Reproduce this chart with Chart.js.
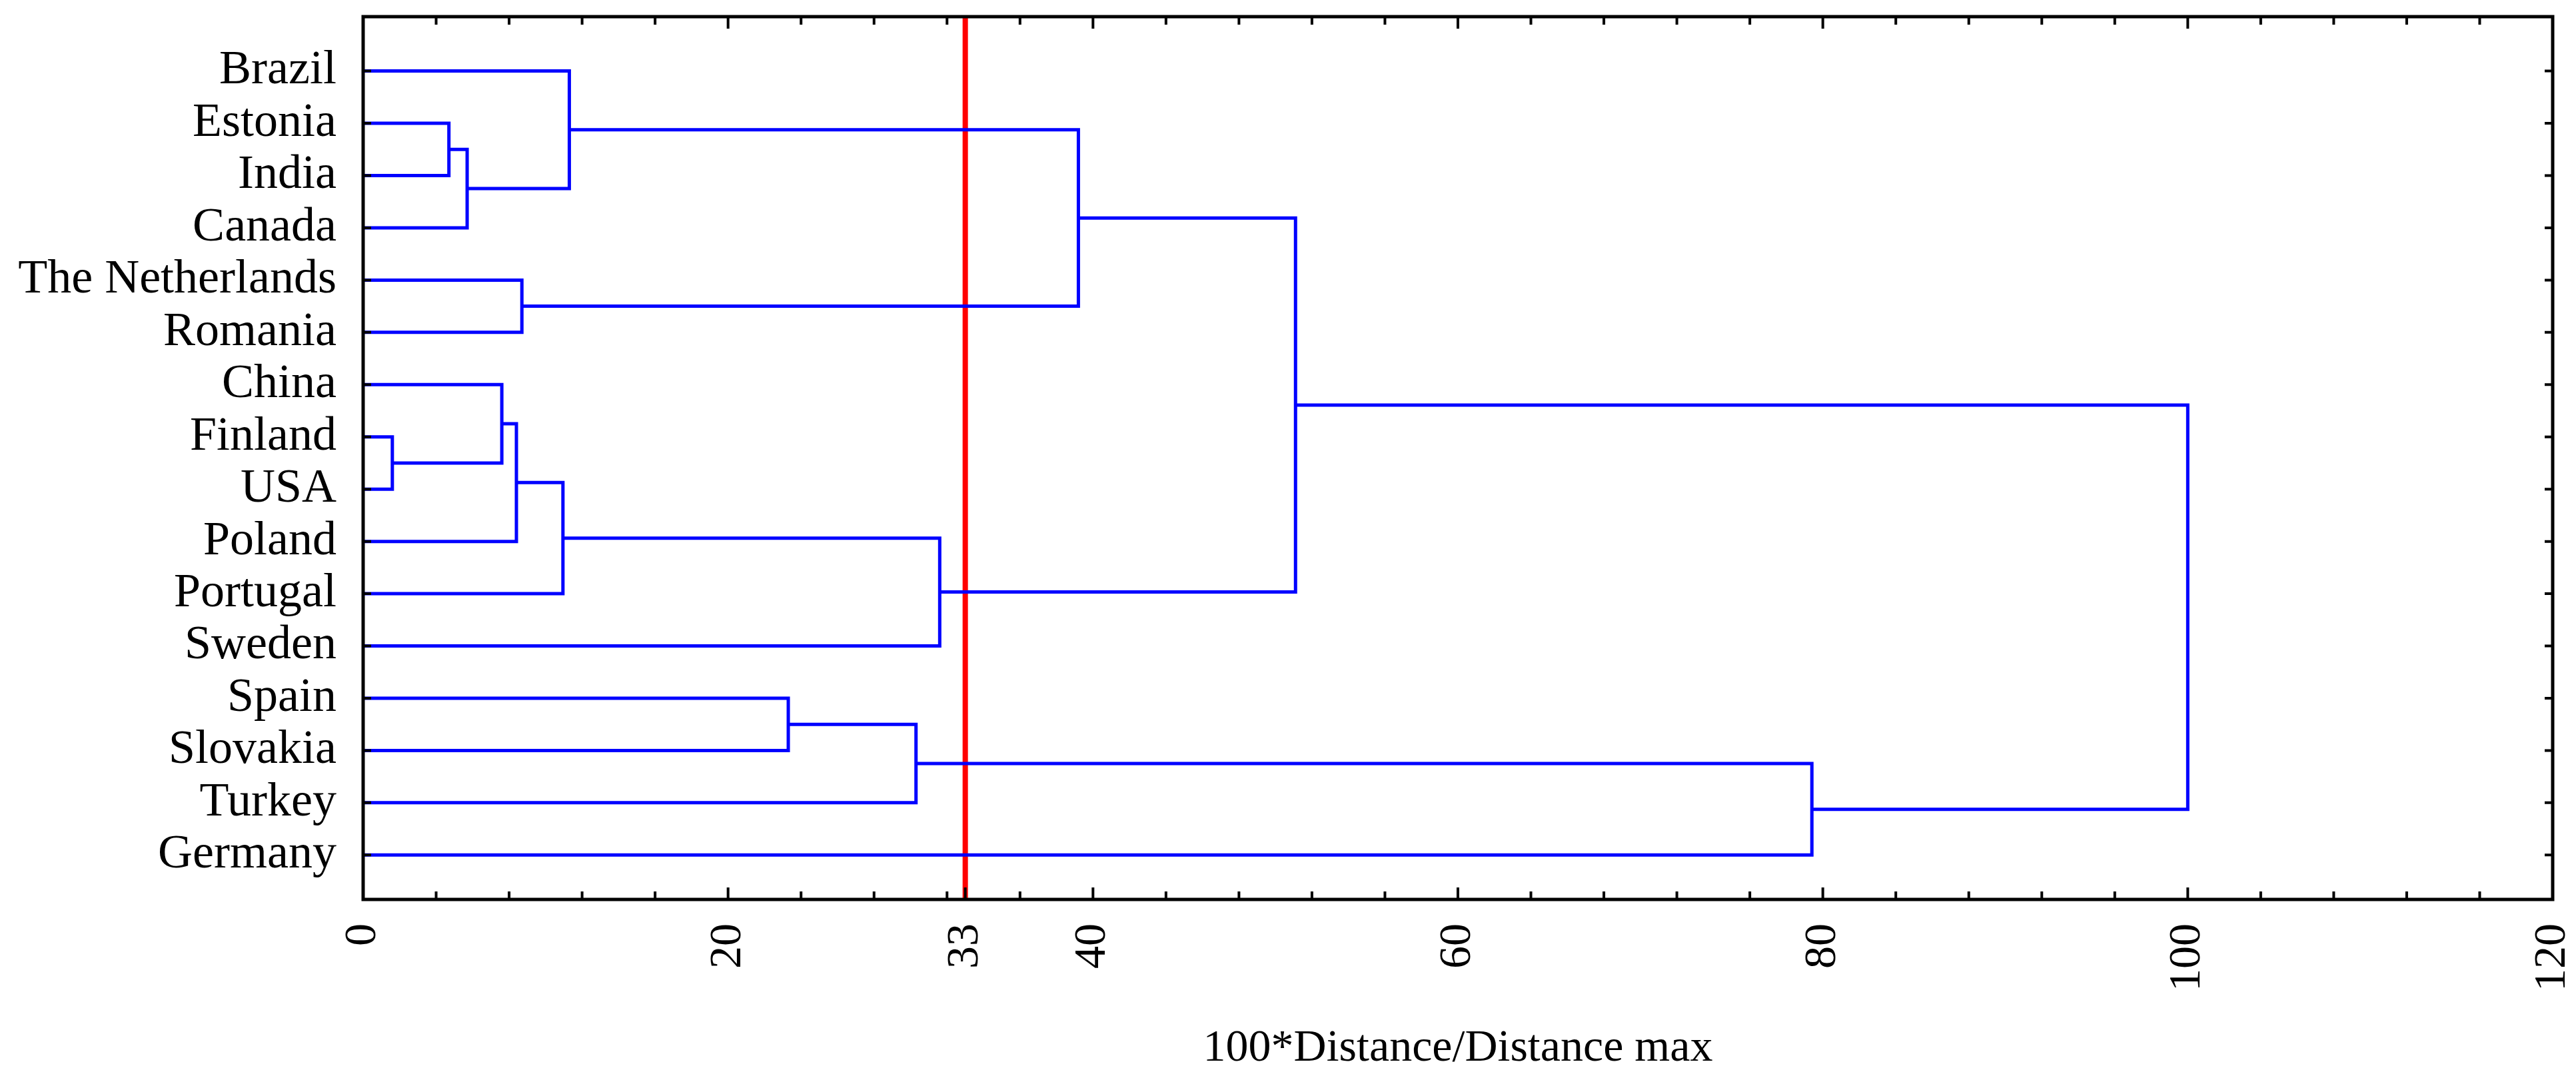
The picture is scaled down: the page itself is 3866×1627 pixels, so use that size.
<!DOCTYPE html>
<html><head><meta charset="utf-8">
<script src="https://cdn.jsdelivr.net/npm/chart.js@4"></script>
<style>html,body{margin:0;padding:0;background:#fff}#w{width:3866px;height:1627px}</style>
</head><body><div id="w"><canvas id="c"></canvas></div>
<script>
const countries = ["Brazil","Estonia","India","Canada","The Netherlands","Romania","China","Finland","USA","Poland","Portugal","Sweden","Spain","Slovakia","Turkey","Germany"];
// merges: [childA, childB] (indices: 0-15 leaves, 16+ previous merges), with heights
const mergeA = [1, 16, 0, 4, 18, 7, 6, 22, 23, 24, 20, 12, 27, 28, 26];
const mergeB = [2, 3, 17, 5, 19, 8, 21, 9, 10, 11, 25, 13, 14, 15, 29];
const mergeHeight = [4.7, 5.7, 11.3, 8.7, 39.2, 1.6, 7.6, 8.4, 10.95, 31.6, 51.1, 23.3, 30.3, 79.4, 100];
const xTickValues = [0, 20, 33, 40, 60, 80, 100, 120];
const cutLevel = 33;
const xTitle = "100*Distance/Distance max";

const nodeX = [], nodeY = [];
countries.forEach((c, i) => { nodeX.push(0); nodeY.push(i); });
const datasets = [];
mergeA.forEach((a, k) => {
  const b = mergeB[k], h = mergeHeight[k];
  datasets.push({
    data: [{x: nodeX[a], y: nodeY[a]}, {x: h, y: nodeY[a]}, {x: h, y: nodeY[b]}, {x: nodeX[b], y: nodeY[b]}],
    borderColor: '#0000ff', borderWidth: 5, pointRadius: 0, fill: false, tension: 0
  });
  nodeX.push(h); nodeY.push((nodeY[a] + nodeY[b]) / 2);
});
const yMin = -1.04, yMax = 15.85;
datasets.push({data: [{x: cutLevel, y: yMin}, {x: cutLevel, y: yMax}], borderColor: '#ff0000', borderWidth: 8, pointRadius: 0});

const font = "'Liberation Serif', 'DejaVu Serif', serif";
const framePlugin = {
  id: 'frame',
  afterDatasetsDraw(chart) {
    const {ctx, chartArea: a, scales: {x, y}} = chart;
    ctx.save();
    ctx.strokeStyle = '#000'; ctx.lineWidth = 5;
    ctx.strokeRect(a.left, a.top, a.right - a.left, a.bottom - a.top);
    ctx.lineWidth = 4;
    ctx.beginPath();
    for (let v = 0; v <= 120; v += 4) {
      const px = x.getPixelForValue(v), len = v % 20 === 0 ? 18 : 12;
      ctx.moveTo(px, a.bottom); ctx.lineTo(px, a.bottom - len);
      ctx.moveTo(px, a.top); ctx.lineTo(px, a.top + len);
    }
    const p33 = x.getPixelForValue(cutLevel);
    ctx.moveTo(p33, a.bottom); ctx.lineTo(p33, a.bottom - 18);
    countries.forEach((c, i) => {
      const py = y.getPixelForValue(i);
      ctx.moveTo(a.left, py); ctx.lineTo(a.left + 12, py);
      ctx.moveTo(a.right, py); ctx.lineTo(a.right - 12, py);
    });
    ctx.stroke();
    ctx.restore();
  }
};

new Chart(document.getElementById('c'), {
  type: 'line',
  data: {datasets},
  plugins: [framePlugin],
  options: {
    responsive: true, maintainAspectRatio: false, animation: false,
    layout: {padding: {top: 25, right: 35, left: 0, bottom: 0}},
    plugins: {legend: {display: false}, tooltip: {enabled: false}},
    scales: {
      x: {
        type: 'linear', min: 0, max: 120,
        afterBuildTicks: s => { s.ticks = xTickValues.map(v => ({value: v})); },
        afterFit: s => { s.height = 277; s.paddingLeft = 0; s.paddingRight = 0; },
        grid: {display: false, drawTicks: false}, border: {display: false},
        ticks: {color: '#000', font: {family: font, size: 68}, padding: 36, maxRotation: 90, minRotation: 90, autoSkip: false},
        title: {display: true, text: xTitle, color: '#000', font: {family: font, size: 68}, padding: {top: 10, bottom: 12}}
      },
      y: {
        type: 'linear', reverse: true, min: yMin, max: yMax,
        afterBuildTicks: s => { s.ticks = countries.map((c, i) => ({value: i})); },
        afterFit: s => { s.width = 545; s.paddingTop = 0; s.paddingBottom = 0; },
        grid: {display: false, drawTicks: false}, border: {display: false},
        ticks: {color: '#000', font: {family: font, size: 72}, padding: 40, autoSkip: false,
          callback: v => countries[v]}
      }
    }
  }
});
</script></body></html>
